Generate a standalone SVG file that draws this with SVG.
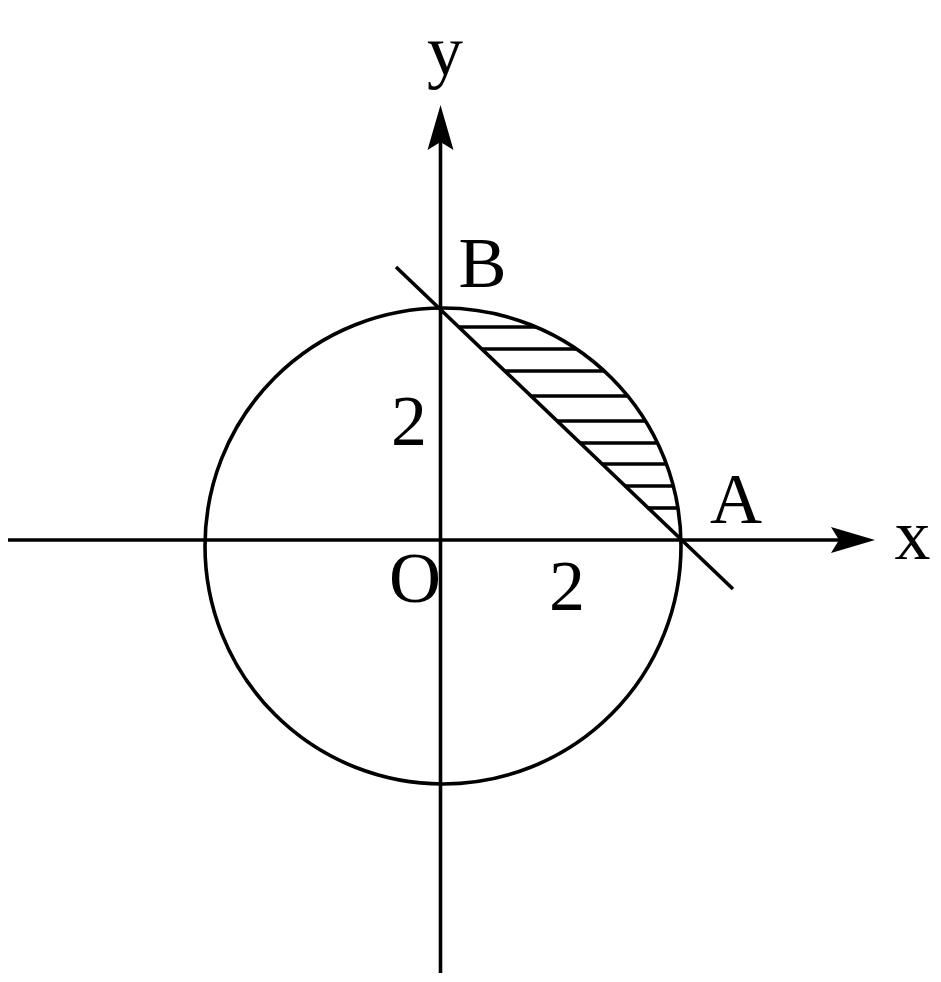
<svg xmlns="http://www.w3.org/2000/svg" width="941" height="982" viewBox="0 0 941 982">
<style>
.ln{stroke:#000;stroke-width:3.6;fill:none}
.ah{fill:#000;stroke:none}
.lbl{font-family:"Times New Roman","Liberation Serif",Tinos,"DejaVu Serif",serif;font-size:72px;fill:#000;text-anchor:middle}
</style>
<rect width="941" height="982" fill="#fff"/>
<g id="connectors">
<line class="ln" x1="8" y1="540" x2="845" y2="540"/>
<polygon class="ah" points="875,540 831,527 839,540 831,553"/>
<line class="ln" x1="440.5" y1="973" x2="440.5" y2="135"/>
<polygon class="ah" points="440.5,105 427.5,150 440.5,142 453.5,150"/>
<line class="ln" x1="396" y1="267" x2="733" y2="589"/>
</g>
<g id="circle">
<circle class="ln" cx="443" cy="546" r="238"/>
</g>
<g id="hatch" class="ln">
<line x1="458.4" y1="327" x2="536.2" y2="327"/>
<line x1="481.4" y1="349" x2="576.5" y2="349"/>
<line x1="504.3" y1="371" x2="604.3" y2="371"/>
<line x1="530.4" y1="396" x2="627.8" y2="396"/>
<line x1="556.5" y1="421" x2="645.5" y2="421"/>
<line x1="579.5" y1="443" x2="657.6" y2="443"/>
<line x1="601.4" y1="464" x2="666.4" y2="464"/>
<line x1="624.4" y1="486" x2="673.3" y2="486"/>
<line x1="647.4" y1="508" x2="677.9" y2="508"/>
</g>
<g id="labels">
<text class="lbl" x="445" y="75">y</text>
<text class="lbl" x="482.5" y="287">B</text>
<text class="lbl" x="409" y="445">2</text>
<text class="lbl" x="415" y="602">O</text>
<text class="lbl" x="567" y="610">2</text>
<text class="lbl" x="736" y="523">A</text>
<text class="lbl" x="912.5" y="559">x</text>
</g>
</svg>
